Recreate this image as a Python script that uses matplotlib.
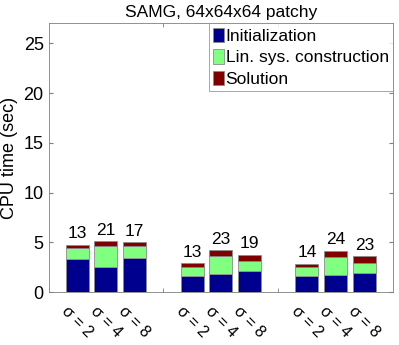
import matplotlib
matplotlib.use("Agg")
import matplotlib.pyplot as plt
import numpy as np

plt.rcParams["font.family"] = ["Liberation Sans", "DejaVu Sans"]

# Data
positions = [1, 2, 3, 5, 6, 7, 9, 10, 11]
tick_labels = ["σ = 2", "σ = 4", "σ = 8"] * 3
init_time = [3.29, 2.55, 3.39, 1.64, 1.78, 2.11, 1.64, 1.74, 1.94]
lin_time = [1.17, 2.11, 1.24, 0.91, 1.84, 1.04, 0.84, 1.81, 0.95]
sol_time = [0.27, 0.44, 0.37, 0.34, 0.57, 0.60, 0.37, 0.61, 0.73]
iterations = [13, 21, 17, 13, 23, 19, 14, 24, 23]

NAVY = "#00008f"
LGREEN = "#80ff80"
DRED = "#800000"
EDGE = "#8c8c8c"
AXIS_GRAY = "#7f7f7f"

fig = plt.figure(figsize=(3.99, 3.45), dpi=100)
fig.set_facecolor("white")
ax = fig.add_axes([0.1216, 0.1536, 0.985 - 0.1216, 0.9319 - 0.1536])

init_time = np.array(init_time)
lin_time = np.array(lin_time)
sol_time = np.array(sol_time)

ax.bar(positions, init_time, width=0.8, color=NAVY, edgecolor=EDGE,
       linewidth=0.6, label="Initialization", zorder=3)
ax.bar(positions, lin_time, width=0.8, bottom=init_time, color=LGREEN,
       edgecolor=EDGE, linewidth=0.6, label="Lin. sys. construction", zorder=3)
ax.bar(positions, sol_time, width=0.8, bottom=init_time + lin_time,
       color=DRED, edgecolor=EDGE, linewidth=0.6, label="Solution", zorder=3)

totals = init_time + lin_time + sol_time
for x, tot, it in zip(positions, totals, iterations):
    ax.text(x, tot + 0.35, str(it), ha="center", va="bottom", fontsize=12.5)

ax.set_xlim(0, 12)
ax.set_ylim(0, 27)
ax.set_yticks([0, 5, 10, 15, 20, 25])
ax.set_xticks(positions)
ax.set_xticklabels(tick_labels, rotation=-45, ha="center", va="top",
                   fontsize=11.5)
ax.set_xticks(range(1, 12), minor=True)
ax.tick_params(axis="both", which="both", direction="in", top=True,
               right=True, color=AXIS_GRAY, labelsize=13)
ax.tick_params(axis="x", which="major", length=0, pad=8, labelsize=11.5)
ax.tick_params(axis="x", which="minor", length=3)
ax.tick_params(axis="y", length=3)
for s in ax.spines.values():
    s.set_color(AXIS_GRAY)
    s.set_linewidth(0.6)

ax.set_ylabel("CPU time (sec)", fontsize=13, labelpad=4)
ax.set_title("SAMG, 64x64x64 patchy", fontsize=12.5, pad=5)

leg = ax.legend(loc="upper right", fontsize=12.5, frameon=True, fancybox=False,
                borderaxespad=0, handlelength=0.6, handleheight=0.9,
                handletextpad=0.1, labelspacing=0.3, borderpad=0.25)
leg.get_frame().set_edgecolor(AXIS_GRAY)
leg.get_frame().set_linewidth(0.6)

fig.savefig("out.png", dpi=100, facecolor="white")
